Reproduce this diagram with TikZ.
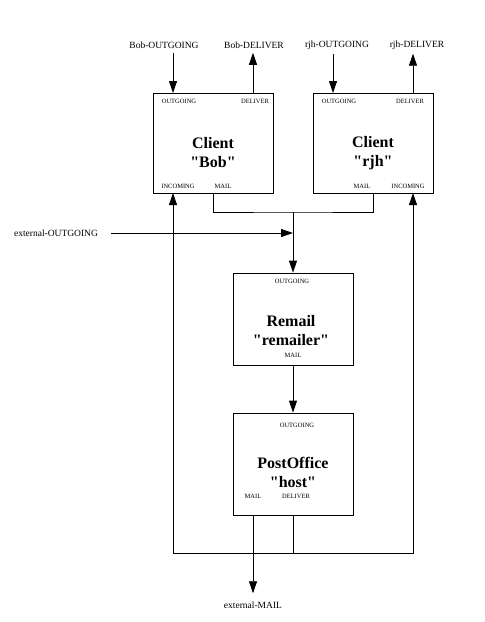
\documentclass[tikz,border=0pt]{standalone}
\usepackage{fontspec}
\setmainfont{Liberation Serif}
\usetikzlibrary{arrows.meta}

\newcommand{\qq}[1]{\textquotedbl#1\textquotedbl}

\tikzset{
  unit/.style={draw, minimum width=120pt, minimum height=100pt},
  title/.style={font=\fontsize{16}{19}\selectfont\bfseries, align=center},
  port/.style={font=\fontsize{6.5}{7}\selectfont, inner sep=0pt},
  ext/.style={font=\fontsize{9.5}{11}\selectfont, inner sep=0pt},
}

\begin{document}
\begin{tikzpicture}[x=1pt,y=-1pt,>={Triangle[length=12pt,width=8pt]},line width=0.8pt]
\useasboundingbox (0,0) rectangle (485,622);

% units
\node[unit] (bob) at (213,143) {};
\node[unit] (rjh) at (373,143) {};
\node[unit, minimum height=92pt] (remail) at (293,319) {};
\node[unit, minimum height=102pt] (post) at (293,464) {};

\node[title] (bobname) at (213,153) {Client\\\qq{Bob}};
\node[title] (rjhname) at (373,153) {Client\\\qq{rjh}};
\node[title] (remailname) at (291,331) {Remail\\\qq{remailer}};
\node[title] (postname) at (293,472) {PostOffice\\\qq{host}};

% ports
\coordinate (bob-out) at (173,93);
\coordinate (bob-del) at (253,93);
\coordinate (bob-in) at (173,193);
\coordinate (bob-mail) at (213,193);
\coordinate (rjh-out) at (333,93);
\coordinate (rjh-del) at (413,93);
\coordinate (rjh-in) at (413,193);
\coordinate (rjh-mail) at (373,193);
\coordinate (post-mail) at (253,515);
\coordinate (post-del) at (293,515);

\node[port] (bobo) at (179,101) {OUTGOING};
\node[port] (bobd) at (255,101) {DELIVER};
\node[port] (bobi) at (178,186) {INCOMING};
\node[port] (bobm) at (223,186) {MAIL};
\node[port] (rjho) at (339,101) {OUTGOING};
\node[port] (rjhd) at (410,101) {DELIVER};
\node[port] (rjhi) at (408,186) {INCOMING};
\node[port] (rjhm) at (362,186) {MAIL};
\node[port] (remo) at (292,281) {OUTGOING};
\node[port] (remm) at (293,355) {MAIL};
\node[port] (posto) at (297,425) {OUTGOING};
\node[port] (postm) at (253,496) {MAIL};
\node[port] (postd) at (296,496) {DELIVER};

% outside
\node[ext] (bobOUT) at (164,45) {Bob-OUTGOING};
\node[ext] (bobDEL) at (254,45) {Bob-DELIVER};
\node[ext] (rjhOUT) at (337,45) {rjh-OUTGOING};
\node[ext] (rjhDEL) at (417,45) {rjh-DELIVER};
\node[ext] (extOUT) at (56,233) {external-OUTGOING};
\node[ext] (extMAIL) at (253,605) {external-MAIL};

\draw[->, shorten <=4pt] (bobOUT.south -| bob-out) -- (bob-out);
\draw[->, shorten >=4pt] (bob-del) -- (bobDEL.south -| bob-del);
\draw[->, shorten <=4pt] (rjhOUT.south -| rjh-out) -- (rjh-out);
\draw[->, shorten >=4pt] (rjh-del) -- (rjhDEL.south -| rjh-del);

\coordinate (join) at (293,212);
\draw (bob-mail) |- (join) -| (rjh-mail);
\draw[->] (join) -- (remail.north);
\draw[->, shorten <=13pt] (extOUT.east) -- (extOUT.east -| join);
\draw[->] (remail.south) -- (post.north);

\coordinate (bus) at (293,553);
\draw (post-del) -- (bus);
\draw[->] (bus) -| (bob-in);
\draw[->] (bus) -| (rjh-in);
\draw[->, shorten >=8pt] (post-mail) -- (extMAIL.north -| post-mail);

\end{tikzpicture}
\end{document}
